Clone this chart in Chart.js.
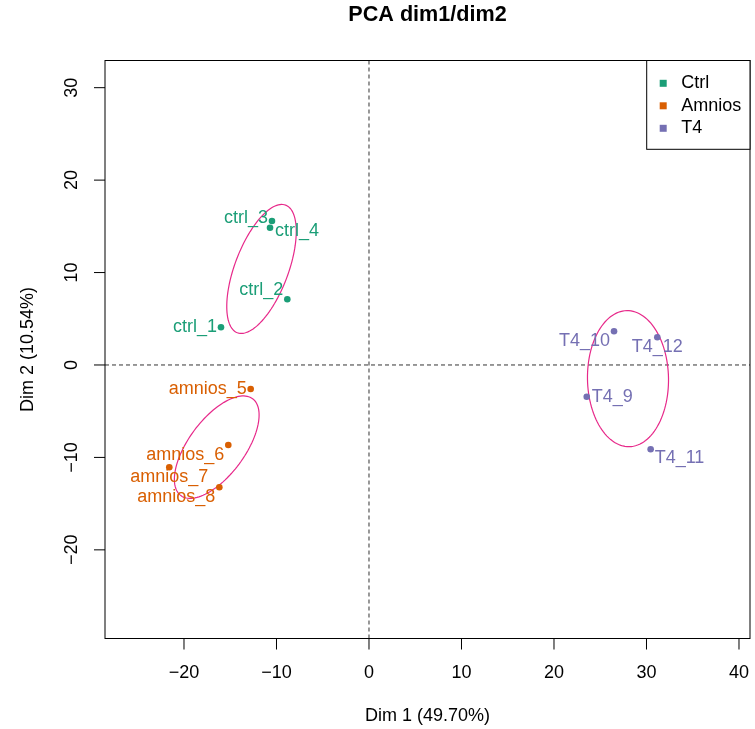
<!DOCTYPE html>
<html>
<head>
<meta charset="utf-8">
<title>PCA dim1/dim2</title>
<script src="https://cdn.jsdelivr.net/npm/chart.js@4.4.1/dist/chart.umd.min.js"></script>
<style>
    html, body { margin: 0; padding: 0; background: #fff; }
    #wrap { width: 755px; height: 729px; }
</style>
</head>
<body>
<div id="wrap"><canvas id="pca-chart" width="755" height="729"></canvas></div>
<script>
// samples and their coordinates on the first two dimensions
const sampleNames = ['ctrl_1', 'ctrl_2', 'ctrl_3', 'ctrl_4',
    'amnios_5', 'amnios_6', 'amnios_7', 'amnios_8',
    'T4_9', 'T4_10', 'T4_11', 'T4_12'];
const sampleGroups = ['Ctrl', 'Ctrl', 'Ctrl', 'Ctrl',
    'Amnios', 'Amnios', 'Amnios', 'Amnios',
    'T4', 'T4', 'T4', 'T4'];
const dim1 = [-16.0, -8.83, -10.49, -10.70, -12.79, -15.21, -21.59, -16.18, 23.54, 26.49, 30.45, 31.17];
const dim2 = [4.08, 7.11, 15.58, 14.85, -2.60, -8.66, -11.07, -13.23, -3.43, 3.65, -9.12, 3.00];

const groupNames = ['Ctrl', 'Amnios', 'T4'];
const groupColors = ['#1B9E77', '#D95F02', '#7570B3'];

// one ellipse per group: centre, half axes and tilt (degrees)
const ellipseCenterX = [-11.62, -16.46, 28.0];
const ellipseCenterY = [10.39, -8.89, -1.48];
const ellipseMajor = [7.38, 6.52, 7.36];
const ellipseMinor = [2.89, 3.03, 4.38];
const ellipseAngle = [69.3, 53.5, 91];

const xTicks = [-20, -10, 0, 10, 20, 30, 40];
const yTicks = [-20, -10, 0, 10, 20, 30];

// where each sample name sits around its point
const labelSide = ['W', 'NW', 'Wup', 'Edown', 'W', 'SW', 'S', 'SW', 'E', 'SW', 'SE', 'S'];

const FONT = '"Liberation Sans", Arial, Helvetica, sans-serif';
const ELLIPSE_COLOR = '#E7298A';

document.addEventListener("DOMContentLoaded", function() {
    drawPca();
});

function fmt(v) {
    return v < 0 ? '\u2212' + Math.abs(v) : String(v);
}

const sideOffsets = {
    W:     { dx: -4, dy: 0, align: 'right' },
    Wup:   { dx: -4, dy: -3, align: 'right' },
    E:     { dx: 5, dy: 0, align: 'left' },
    Edown: { dx: 5, dy: 3, align: 'left' },
    NW:    { dx: -4, dy: -9, align: 'right' },
    SW:    { dx: -4, dy: 9.5, align: 'right' },
    S:     { dx: 0, dy: 9.5, align: 'center' },
    SE:    { dx: 4, dy: 9, align: 'left' }
};

// everything R draws around the points: box, axes, ellipses, names, legend, title
const pcaDecor = {
    id: 'pcaDecor',
    beforeDatasetsDraw(chart) {
        const ctx = chart.ctx;
        const area = chart.chartArea;
        const xs = chart.scales.x;
        const ys = chart.scales.y;

        // dashed zero lines
        ctx.save();
        ctx.strokeStyle = '#333';
        ctx.lineWidth = 1;
        ctx.setLineDash([4, 3]);
        ctx.beginPath();
        const x0 = xs.getPixelForValue(0);
        const y0 = ys.getPixelForValue(0);
        ctx.moveTo(x0, area.top);
        ctx.lineTo(x0, area.bottom);
        ctx.moveTo(area.left, y0);
        ctx.lineTo(area.right, y0);
        ctx.stroke();
        ctx.restore();

        // group ellipses
        ctx.save();
        ctx.strokeStyle = ELLIPSE_COLOR;
        ctx.lineWidth = 1.2;
        for (let g = 0; g < groupNames.length; g++) {
            const phi = ellipseAngle[g] * Math.PI / 180;
            ctx.beginPath();
            for (let k = 0; k <= 120; k++) {
                const t = k / 120 * 2 * Math.PI;
                const ex = ellipseMajor[g] * Math.cos(t);
                const ey = ellipseMinor[g] * Math.sin(t);
                const vx = ellipseCenterX[g] + ex * Math.cos(phi) - ey * Math.sin(phi);
                const vy = ellipseCenterY[g] + ex * Math.sin(phi) + ey * Math.cos(phi);
                const px = xs.getPixelForValue(vx);
                const py = ys.getPixelForValue(vy);
                if (k === 0) ctx.moveTo(px, py); else ctx.lineTo(px, py);
            }
            ctx.stroke();
        }
        ctx.restore();
    },
    afterDatasetsDraw(chart) {
        const ctx = chart.ctx;
        const xs = chart.scales.x;
        const ys = chart.scales.y;

        // sample names
        ctx.save();
        ctx.font = '18px ' + FONT;
        ctx.textBaseline = 'middle';
        sampleNames.forEach((name, i) => {
            const off = sideOffsets[labelSide[i]];
            const gi = groupNames.indexOf(sampleGroups[i]);
            ctx.fillStyle = groupColors[gi];
            ctx.textAlign = off.align;
            ctx.fillText(name, xs.getPixelForValue(dim1[i]) + off.dx, ys.getPixelForValue(dim2[i]) + off.dy);
        });
        ctx.restore();
    },
    afterDraw(chart) {
        const ctx = chart.ctx;
        const area = chart.chartArea;
        const xs = chart.scales.x;
        const ys = chart.scales.y;

        ctx.save();
        ctx.strokeStyle = '#000';
        ctx.fillStyle = '#000';
        ctx.lineWidth = 1;

        // plot box
        ctx.strokeRect(area.left, area.top, area.right - area.left, area.bottom - area.top);

        // tick marks
        ctx.beginPath();
        xTicks.forEach(v => {
            const px = xs.getPixelForValue(v);
            ctx.moveTo(px, area.bottom);
            ctx.lineTo(px, area.bottom + 11);
        });
        yTicks.forEach(v => {
            const py = ys.getPixelForValue(v);
            ctx.moveTo(area.left, py);
            ctx.lineTo(area.left - 11, py);
        });
        ctx.stroke();

        // tick labels
        ctx.font = '18px ' + FONT;
        ctx.textAlign = 'center';
        ctx.textBaseline = 'middle';
        xTicks.forEach(v => {
            ctx.fillText(fmt(v), xs.getPixelForValue(v), area.bottom + 34.5);
        });
        yTicks.forEach(v => {
            ctx.save();
            ctx.translate(area.left - 33.3, ys.getPixelForValue(v));
            ctx.rotate(-Math.PI / 2);
            ctx.fillText(fmt(v), 0, 0);
            ctx.restore();
        });

        // main title
        ctx.font = 'bold 21.6px ' + FONT;
        ctx.fillText('PCA dim1/dim2', (area.left + area.right) / 2, 15.5);

        // legend in the top right corner
        const lw = 103.3, lh = 88.8;
        const lx = area.right - lw, ly = area.top;
        ctx.fillStyle = '#fff';
        ctx.fillRect(lx, ly, lw, lh);
        ctx.strokeRect(lx, ly, lw, lh);
        ctx.font = '18px ' + FONT;
        ctx.textAlign = 'left';
        groupNames.forEach((g, gi) => {
            const cy = ly + 22.8 + gi * 22.5;
            ctx.fillStyle = groupColors[gi];
            ctx.fillRect(lx + 13, cy - 3.5, 7, 7);
            ctx.fillStyle = '#000';
            ctx.fillText(g, lx + 34.5, cy);
        });
        ctx.restore();
    }
};

function drawPca() {
    Chart.defaults.font.family = FONT;
    Chart.defaults.color = '#000';

    const datasets = groupNames.map((g, gi) => {
        const pts = [];
        sampleNames.forEach((name, i) => {
            if (sampleGroups[i] === g) pts.push({ x: dim1[i], y: dim2[i] });
        });
        return {
            label: g,
            data: pts,
            backgroundColor: groupColors[gi],
            borderColor: groupColors[gi],
            borderWidth: 0,
            pointRadius: 3.3,
            pointHoverRadius: 3.3
        };
    });

    const ctx = document.getElementById('pca-chart').getContext('2d');
    new Chart(ctx, {
        type: 'scatter',
        data: { datasets: datasets },
        options: {
            responsive: false,
            animation: false,
            layout: { padding: { left: 0, right: 5, top: 60.5, bottom: 0 } },
            plugins: {
                legend: { display: false },
                tooltip: { enabled: false },
                title: { display: false }
            },
            scales: {
                x: {
                    type: 'linear',
                    min: -28.54,
                    max: 41.19,
                    ticks: { display: false },
                    grid: { display: false },
                    border: { display: false },
                    title: {
                        display: true,
                        text: 'Dim 1 (49.70%)',
                        font: { size: 18, lineHeight: 1.2 },
                        padding: { top: 0, bottom: 2.5 }
                    },
                    afterFit: function(scale) { scale.height = 90.5; }
                },
                y: {
                    type: 'linear',
                    min: -29.59,
                    max: 32.94,
                    ticks: { display: false },
                    grid: { display: false },
                    border: { display: false },
                    title: {
                        display: true,
                        text: 'Dim 2 (10.54%)',
                        font: { size: 18, lineHeight: 1.2 },
                        padding: { top: 17.5, bottom: 0 }
                    },
                    afterFit: function(scale) { scale.width = 105; }
                }
            }
        },
        plugins: [pcaDecor]
    });
}
</script>
</body>
</html>
